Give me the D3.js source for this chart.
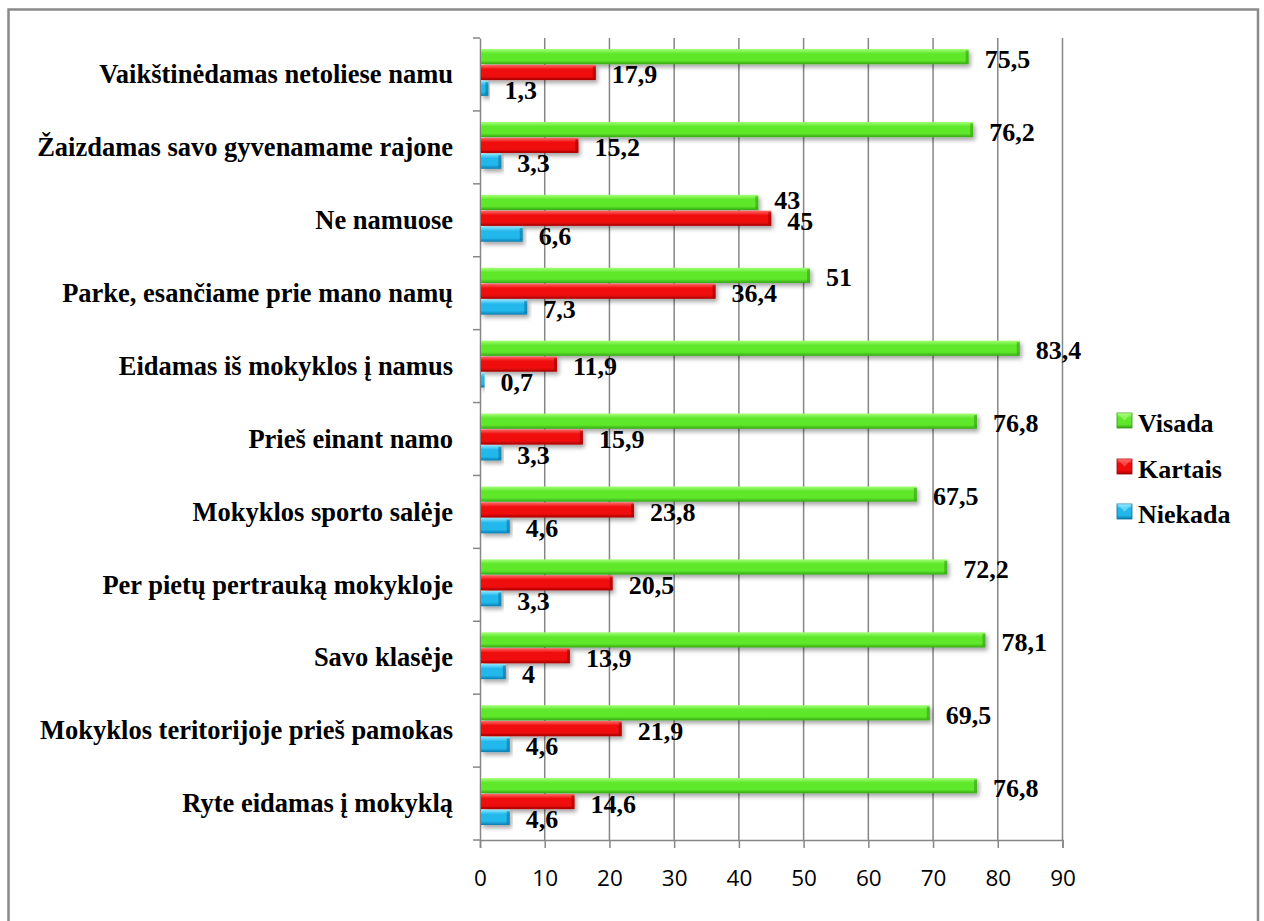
<!DOCTYPE html>
<html>
<head>
<meta charset="utf-8">
<script src="https://cdn.jsdelivr.net/npm/d3@7"></script>
<style>
  html, body { margin: 0; padding: 0; background: #fff; }
  svg { display: block; }
</style>
</head>
<body>
<div id="chart"></div>
<script>
// ---- Data (top-to-bottom order as shown) ----
const categories = [
  "Vaikštinėdamas netoliese namu",
  "Žaizdamas savo gyvenamame rajone",
  "Ne namuose",
  "Parke, esančiame prie mano namų",
  "Eidamas iš mokyklos į namus",
  "Prieš einant namo",
  "Mokyklos sporto salėje",
  "Per pietų pertrauką mokykloje",
  "Savo klasėje",
  "Mokyklos teritorijoje prieš pamokas",
  "Ryte eidamas į mokyklą"
];
const seriesNames = ["Visada", "Kartais", "Niekada"];
const visada  = [75.5, 76.2, 43, 51, 83.4, 76.8, 67.5, 72.2, 78.1, 69.5, 76.8];
const kartais = [17.9, 15.2, 45, 36.4, 11.9, 15.9, 23.8, 20.5, 13.9, 21.9, 14.6];
const niekada = [1.3, 3.3, 6.6, 7.3, 0.7, 3.3, 4.6, 3.3, 4, 4.6, 4.6];
const xTicks = [0, 10, 20, 30, 40, 50, 60, 70, 80, 90];

const seriesValues = [visada, kartais, niekada];
const colors = {
  Visada:  { top: "#a6ff7a", mid: "#5fe82c", bot: "#35a812", edge: "#2f9a10" },
  Kartais: { top: "#ff6a6a", mid: "#f00c0c", bot: "#a80000", edge: "#990000" },
  Niekada: { top: "#8fe6ff", mid: "#22b8ec", bot: "#0a7db0", edge: "#0a6f9c" }
};

const W = 1264, H = 921;
const svg = d3.select("#chart").append("svg").attr("width", W).attr("height", H);
const defs = svg.append("defs");

// gradients
seriesNames.forEach(s => {
  const g = defs.append("linearGradient").attr("id", "g-" + s)
    .attr("x1", 0).attr("y1", 0).attr("x2", 0).attr("y2", 1);
  g.append("stop").attr("offset", "0%").attr("stop-color", colors[s].top);
  g.append("stop").attr("offset", "30%").attr("stop-color", colors[s].mid);
  g.append("stop").attr("offset", "75%").attr("stop-color", colors[s].mid);
  g.append("stop").attr("offset", "100%").attr("stop-color", colors[s].bot);
});
const f = defs.append("filter").attr("id", "shadow")
  .attr("x", "-5%").attr("y", "-30%").attr("width", "115%").attr("height", "190%");
f.append("feDropShadow").attr("dx", 2).attr("dy", 3).attr("stdDeviation", 2)
  .attr("flood-color", "#000").attr("flood-opacity", 0.35);

// outer frame
svg.append("rect").attr("x", 8.5).attr("y", 9.5).attr("width", 1249.5).attr("height", 960)
  .attr("fill", "none").attr("stroke", "#8a8a8a").attr("stroke-width", 2.5);

// scales
const x = d3.scaleLinear().domain([0, 90]).range([480, 1062.5]);
const y = d3.scaleBand().domain(categories).range([38, 840]).padding(0);
const yInner = d3.scaleBand().domain(seriesNames)
  .range([11, y.bandwidth() - 15]).paddingInner(0.04);

const gridColor = "#868686";

// gridlines
svg.append("g").selectAll("line").data(xTicks.filter(d => d > 0)).join("line")
  .attr("x1", d => x(d)).attr("x2", d => x(d))
  .attr("y1", 38).attr("y2", 840)
  .attr("stroke", gridColor).attr("stroke-width", 1.5);

// x axis
const xAxis = svg.append("g").attr("transform", "translate(0,840)")
  .call(d3.axisBottom(x).tickValues(xTicks).tickSize(8).tickPadding(22).tickFormat(d3.format("d")));
xAxis.select(".domain").attr("stroke", gridColor).attr("stroke-width", 1.5);
xAxis.selectAll(".tick line").attr("stroke", gridColor).attr("stroke-width", 1.5);
xAxis.selectAll(".tick text")
  .attr("font-family", "'Open Sans', sans-serif").attr("font-size", 22.5)
  .attr("fill", "#000");

// y axis
const yAxis = svg.append("g").attr("transform", "translate(480,0)")
  .call(d3.axisLeft(y).tickSize(0).tickPadding(27));
yAxis.select(".domain").attr("stroke", gridColor).attr("stroke-width", 1.5);
yAxis.selectAll(".tick text")
  .attr("font-family", "'Liberation Serif', 'Times New Roman', serif")
  .attr("font-weight", "bold").attr("font-size", 26.5).attr("fill", "#000")
  .attr("dy", "0.33em");
// category boundary ticks
const bounds = categories.map(c => y(c)).concat([840]);
svg.append("g").selectAll("line").data(bounds).join("line")
  .attr("x1", 473).attr("x2", 480)
  .attr("y1", d => d).attr("y2", d => d)
  .attr("stroke", gridColor).attr("stroke-width", 1.5);

// bars
const rows = [];
categories.forEach((c, i) => {
  seriesNames.forEach((s, j) => rows.push({ cat: c, series: s, value: seriesValues[j][i] }));
});

const barG = svg.append("g");
barG.selectAll("rect.bar").data(rows).join("rect")
  .attr("class", "bar")
  .attr("x", x(0) + 1)
  .attr("y", d => y(d.cat) + yInner(d.series))
  .attr("width", d => Math.max(1.5, x(d.value) - x(0) - 1))
  .attr("height", yInner.bandwidth())
  .attr("fill", d => "url(#g-" + d.series + ")")
  .attr("filter", "url(#shadow)");
// right end cap
barG.selectAll("rect.cap").data(rows.filter(d => x(d.value) - x(0) > 6)).join("rect")
  .attr("class", "cap")
  .attr("x", d => x(d.value) - 3)
  .attr("y", d => y(d.cat) + yInner(d.series) + 1.5)
  .attr("width", 3)
  .attr("height", yInner.bandwidth() - 3)
  .attr("fill", d => colors[d.series].edge).attr("opacity", 0.55);

// value labels
const fmt = v => String(v).replace(".", ",");
// small nudge where two labels touch (Ne namuose: 43 / 45)
const nudge = d => (d.cat === "Ne namuose" && d.series === "Visada") ? -4 :
                   (d.cat === "Ne namuose" && d.series === "Kartais") ? 1 : 0;
svg.append("g").selectAll("text").data(rows).join("text")
  .attr("x", d => x(d.value) + 16)
  .attr("y", d => y(d.cat) + yInner(d.series) + yInner.bandwidth() / 2 + 11 + nudge(d))
  .attr("font-family", "'Liberation Serif', 'Times New Roman', serif")
  .attr("font-weight", "bold").attr("font-size", 26).attr("fill", "#000")
  .text(d => fmt(d.value));

// legend
const legY = [421, 467, 512];
const leg = svg.append("g");
seriesNames.forEach((s, i) => {
  const gy = legY[i];
  leg.append("rect").attr("x", 1117).attr("y", gy - 8).attr("width", 15).attr("height", 15)
    .attr("fill", "url(#g-" + s + ")").attr("stroke", colors[s].edge).attr("stroke-width", 0.8);
  leg.append("path")
    .attr("d", `M1117,${gy - 8} L1124.5,${gy - 0.5} L1132,${gy - 8} Z`)
    .attr("fill", colors[s].top).attr("opacity", 0.6);
  leg.append("text").attr("x", 1138).attr("y", gy + 11)
    .attr("font-family", "'Liberation Serif', 'Times New Roman', serif")
    .attr("font-weight", "bold").attr("font-size", 26).attr("fill", "#000")
    .text(s);
});
</script>
</body>
</html>
